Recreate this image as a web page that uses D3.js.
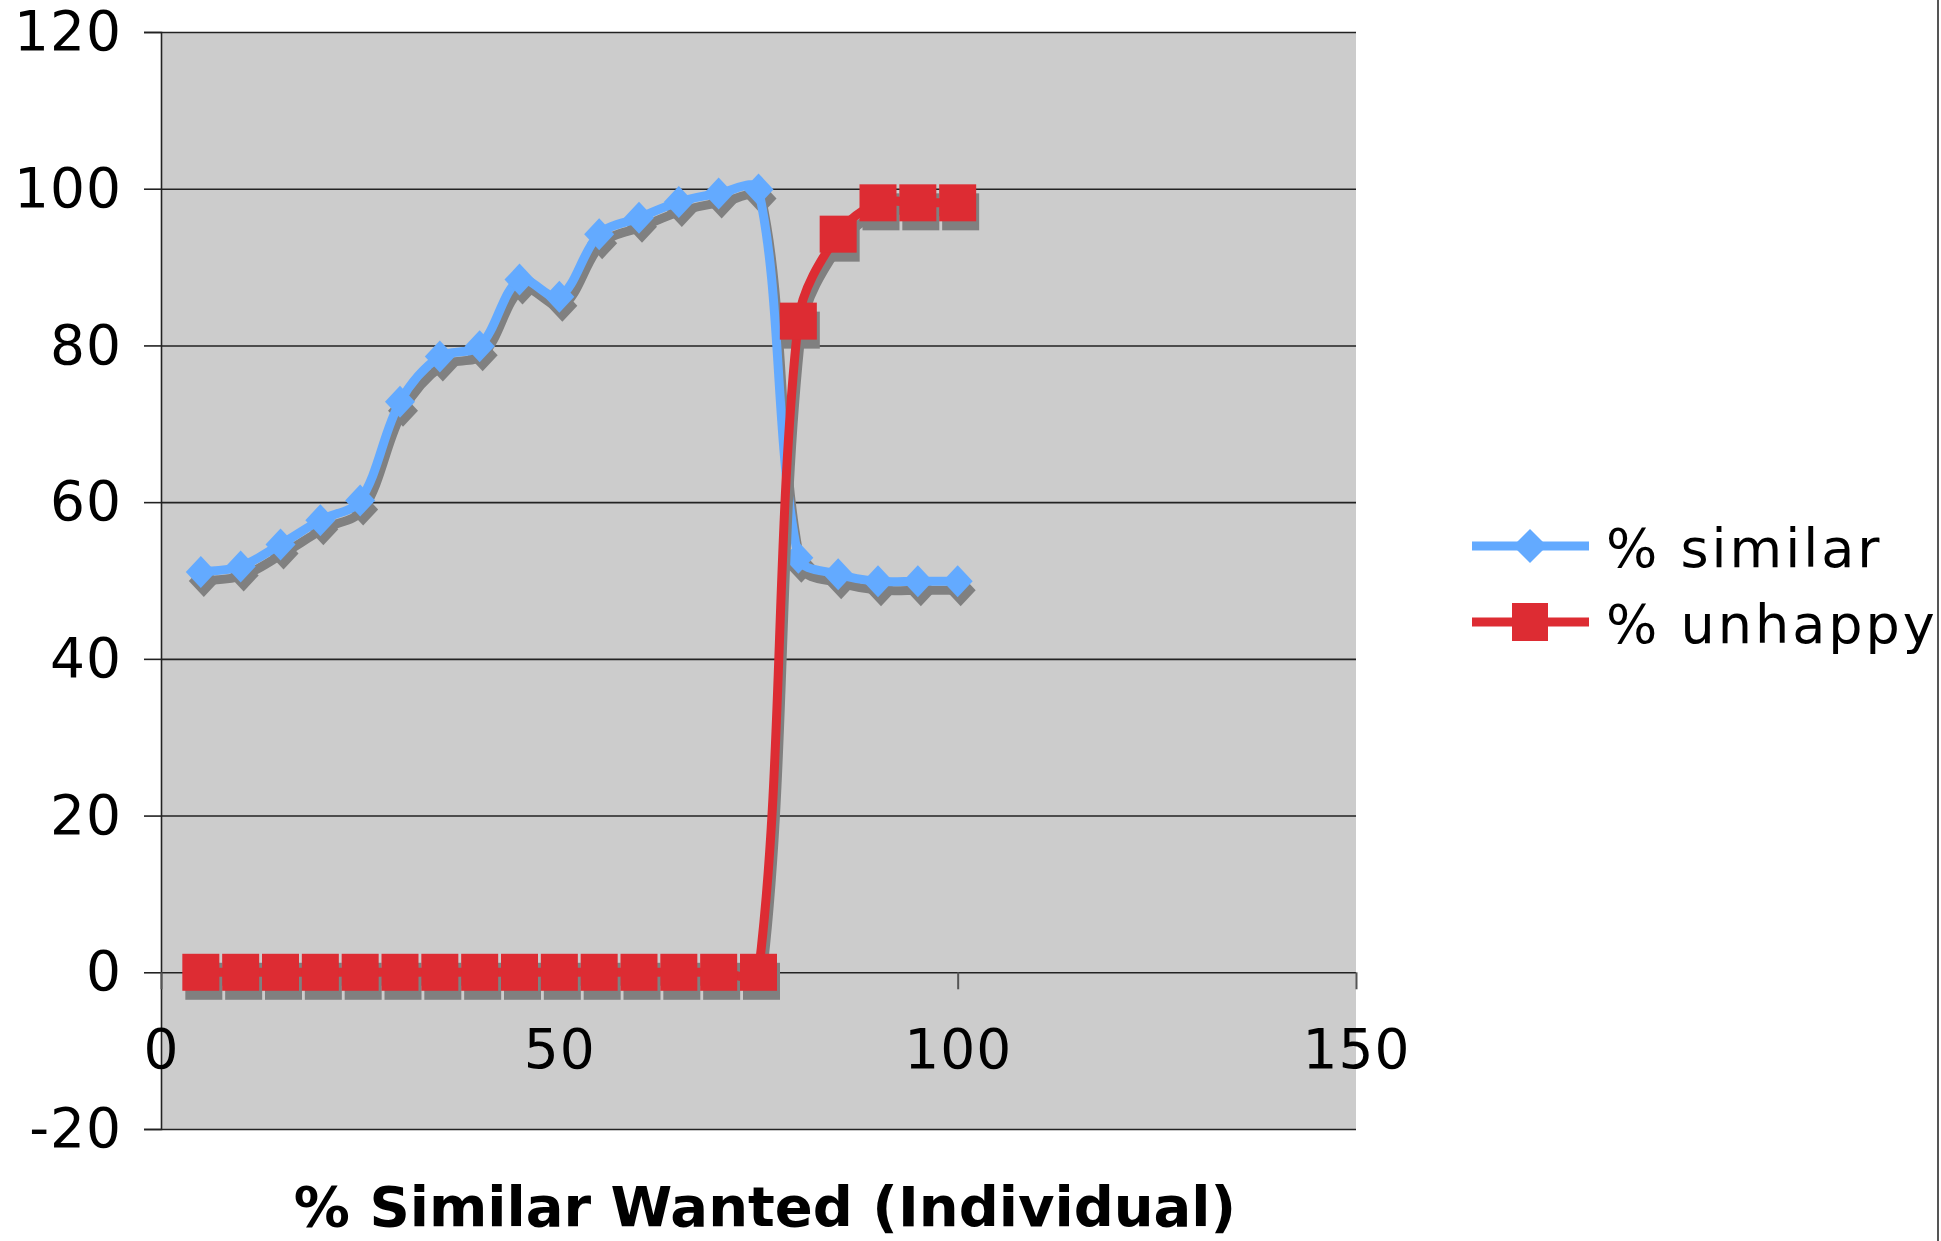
<!DOCTYPE html>
<html>
<head>
<meta charset="utf-8">
<script src="https://cdn.jsdelivr.net/npm/d3@7"></script>
<style>
  html, body { margin: 0; padding: 0; background: #fff; }
  svg { display: block; }
  text { font-family: "DejaVu Sans", Verdana, sans-serif; }
</style>
</head>
<body>
<svg id="chart" width="1941" height="1241"></svg>
<script>
// ---- data ----
const xValues = [5, 10, 15, 20, 25, 30, 35, 40, 45, 50, 55, 60, 65, 70, 75, 80, 85, 90, 95, 100];
const similarValues = [51.1, 51.8, 54.6, 57.7, 60.2, 72.8, 78.6, 79.9, 88.4, 86.2, 94.2, 96.3, 98.3, 99.4, 99.9, 52.9, 50.8, 49.9, 49.9, 49.9];
const unhappyValues = [0, 0, 0, 0, 0, 0, 0, 0, 0, 0, 0, 0, 0, 0, 0, 83.1, 94.2, 98.2, 98.2, 98.2];
const seriesNames = ["% similar", "% unhappy"];
const xTicks = [0, 50, 100, 150];
const yTicks = [-20, 0, 20, 40, 60, 80, 100, 120];
const xTitle = "% Similar Wanted (Individual)";

// ---- layout ----
const svg = d3.select("#chart");
const W = 1941, H = 1241;
const plot = { left: 161, right: 1356, top: 32, bottom: 1129 };

const x = d3.scaleLinear().domain([0, 150]).range([plot.left, plot.right]);
const y = d3.scaleLinear().domain([-20, 120]).range([plot.bottom, plot.top]);

const blue = "#63aaff";
const red = "#dd2c33";
const shadow = "#808080";
const shOff = [3, 9];
const fmt = d => String(d);

// Spreadsheet-style smoothing curve: cubic Bezier with tangents (P[i+1]-P[i-1])
// split in proportion to neighbouring chord lengths.
function SmoothCurve(context) { this._context = context; }
SmoothCurve.prototype = {
  areaStart() { this._line = 0; },
  areaEnd() { this._line = NaN; },
  lineStart() { this._pts = []; },
  point(px, py) { this._pts.push([+px, +py]); },
  lineEnd() {
    const p = this._pts, n = p.length, c = this._context;
    if (!n) return;
    c.moveTo(p[0][0], p[0][1]);
    if (n === 1) return;
    const dist = (a, b) => Math.hypot(b[0] - a[0], b[1] - a[1]);
    const tan = p.map((pt, i) => {
      const a = p[Math.max(0, i - 1)], b = p[Math.min(n - 1, i + 1)];
      return [b[0] - a[0], b[1] - a[1]];
    });
    const k = 1 / 3;
    for (let i = 0; i < n - 1; i++) {
      const p0 = p[i], p1 = p[i + 1];
      const d01 = dist(p0, p1);
      const dPrev = i > 0 ? dist(p[i - 1], p0) : d01;
      const dNext = i + 2 < n ? dist(p1, p[i + 2]) : d01;
      const f0 = (i > 0 ? k : k * 0.5) * d01 / ((i > 0 ? dPrev : 0) + d01);
      const f1 = (i + 2 < n ? k : k * 0.5) * d01 / (d01 + (i + 2 < n ? dNext : 0));
      c.bezierCurveTo(
        p0[0] + tan[i][0] * f0, p0[1] + tan[i][1] * f0,
        p1[0] - tan[i + 1][0] * f1, p1[1] - tan[i + 1][1] * f1,
        p1[0], p1[1]);
    }
  }
};
const curveSmooth = ctx => new SmoothCurve(ctx);

svg.append("defs").append("clipPath").attr("id", "chartClip")
  .append("rect").attr("x", 0).attr("y", 0).attr("width", 1937).attr("height", H);

const root = svg.append("g").attr("clip-path", "url(#chartClip)");

// plot background
root.append("rect")
  .attr("x", plot.left).attr("y", plot.top)
  .attr("width", plot.right - plot.left).attr("height", plot.bottom - plot.top)
  .attr("fill", "#cccccc");

// gridlines
const grid = root.append("g")
  .attr("transform", `translate(${plot.left},0)`)
  .call(d3.axisLeft(y).tickValues(yTicks).tickSize(-(plot.right - plot.left)).tickFormat(""));
grid.select(".domain").remove();
grid.selectAll(".tick line").attr("stroke", "#222").attr("stroke-width", 1.6);

// y axis
const yAxis = root.append("g")
  .attr("transform", `translate(${plot.left},0)`)
  .call(d3.axisLeft(y).tickValues(yTicks).tickSize(17).tickPadding(22).tickFormat(fmt));
yAxis.select(".domain").attr("stroke", "#222").attr("stroke-width", 1.6);
yAxis.selectAll(".tick line").attr("stroke", "#222").attr("stroke-width", 1.6);
yAxis.selectAll(".tick text")
  .attr("font-size", 55).attr("letter-spacing", 1).attr("fill", "#000")
  .style("font-family", '"DejaVu Sans", Verdana, sans-serif');

// x axis at y = 0
const xAxis = root.append("g")
  .attr("transform", `translate(0,${y(0)})`)
  .call(d3.axisBottom(x).tickValues(xTicks).tickSize(17).tickPadding(40).tickFormat(fmt));
xAxis.select(".domain").remove();
xAxis.selectAll(".tick line").attr("stroke", "#555").attr("stroke-width", 2);
xAxis.selectAll(".tick text")
  .attr("font-size", 55).attr("letter-spacing", 1).attr("fill", "#000")
  .style("font-family", '"DejaVu Sans", Verdana, sans-serif');

// ---- series ----
const line = d3.line().x(d => x(d[0])).y(d => y(d[1])).curve(curveSmooth);
const simData = xValues.map((v, i) => [v, similarValues[i]]);
const unhData = xValues.map((v, i) => [v, unhappyValues[i]]);

const diamond = "M0,-16L15,0L0,16L-15,0Z";
const sq = 37;

function drawSeries(data, color, marker) {
  const g = root.append("g");
  const sg = g.append("g").attr("transform", `translate(${shOff[0]},${shOff[1]})`);
  sg.append("path").datum(data).attr("d", line)
    .attr("fill", "none").attr("stroke", shadow).attr("stroke-width", 9).attr("stroke-linejoin", "round");
  if (marker === "diamond") {
    sg.selectAll("path.m").data(data).enter().append("path").attr("class", "m")
      .attr("d", diamond).attr("transform", d => `translate(${x(d[0])},${y(d[1])})`).attr("fill", shadow);
  } else {
    sg.selectAll("rect").data(data).enter().append("rect")
      .attr("x", d => x(d[0]) - sq / 2).attr("y", d => y(d[1]) - sq / 2)
      .attr("width", sq).attr("height", sq).attr("fill", shadow);
  }
  g.append("path").datum(data).attr("d", line)
    .attr("fill", "none").attr("stroke", color).attr("stroke-width", 9).attr("stroke-linejoin", "round");
  if (marker === "diamond") {
    g.selectAll("path.mk").data(data).enter().append("path").attr("class", "mk")
      .attr("d", diamond).attr("transform", d => `translate(${x(d[0])},${y(d[1])})`).attr("fill", color);
  } else {
    g.selectAll("rect.mk").data(data).enter().append("rect").attr("class", "mk")
      .attr("x", d => x(d[0]) - sq / 2).attr("y", d => y(d[1]) - sq / 2)
      .attr("width", sq).attr("height", sq).attr("fill", color);
  }
}
drawSeries(simData, blue, "diamond");
drawSeries(unhData, red, "square");

// ---- legend ----
const legend = root.append("g");
const legendItems = [
  { name: seriesNames[0], color: blue, marker: "diamond", cy: 546 },
  { name: seriesNames[1], color: red, marker: "square", cy: 622 }
];
legendItems.forEach(it => {
  legend.append("line").attr("x1", 1472).attr("x2", 1589).attr("y1", it.cy).attr("y2", it.cy)
    .attr("stroke", it.color).attr("stroke-width", 9);
  if (it.marker === "diamond") {
    legend.append("path").attr("d", "M0,-17L17,0L0,17L-17,0Z")
      .attr("transform", `translate(1530,${it.cy})`).attr("fill", it.color);
  } else {
    legend.append("rect").attr("x", 1512).attr("y", it.cy - 19).attr("width", 36).attr("height", 38).attr("fill", it.color);
  }
  legend.append("text").attr("x", 1606).attr("y", it.cy + 21)
    .attr("font-size", 54).attr("letter-spacing", 3).attr("fill", "#000").text(it.name);
});

// x title
root.append("text").attr("x", 765).attr("y", 1226).attr("text-anchor", "middle")
  .attr("font-size", 56).attr("font-weight", "bold").attr("fill", "#000").text(xTitle);

// right border
svg.append("line").attr("x1", 1938).attr("x2", 1938).attr("y1", 0).attr("y2", H)
  .attr("stroke", "#555").attr("stroke-width", 2);
</script>
</body>
</html>
